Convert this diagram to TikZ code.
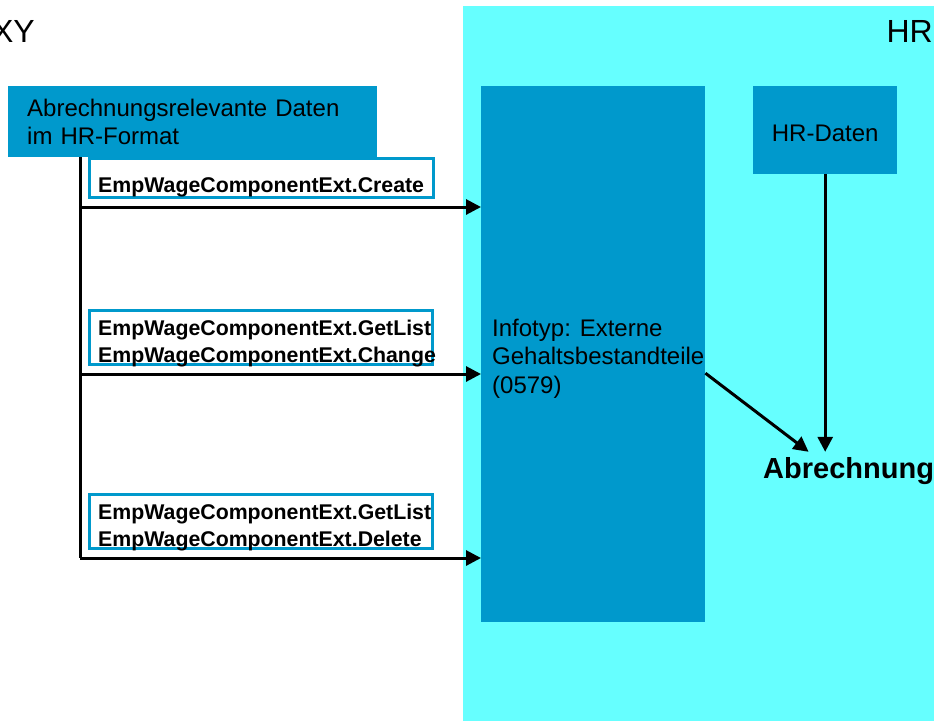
\documentclass[tikz,border=0pt]{standalone}
\usepackage{fontspec}
\setmainfont{Liberation Sans}
\usetikzlibrary{arrows.meta}

\definecolor{hrcyan}{HTML}{66FFFF}
\definecolor{sapblue}{HTML}{0099CC}

\tikzset{
  bluebox/.style={fill=sapblue, inner sep=0pt},
  methbox/.style={draw=sapblue, line width=3pt, fill=white, anchor=north west, inner sep=0pt},
  methtext/.style={font=\fontsize{21.3}{27}\selectfont\bfseries, align=left, anchor=base west, inner sep=0pt},
  normtext/.style={font=\fontsize{24}{28.5}\selectfont, align=left},
  systext/.style={font=\fontsize{32}{38}\selectfont, anchor=base east, inner sep=0pt},
  conn/.style={line width=3pt},
  arr/.style={conn, -{Triangle[length=15pt,width=15pt]}},
}

\begin{document}
\begin{tikzpicture}[x=1pt,y=-1pt]
    \useasboundingbox (0,0) rectangle (934,721);

    % Bereich HR
    \fill[hrcyan] (463,6) rectangle (934,721);
    \node[systext] (xy) at (35,42) {XY};
    \node[systext] (hr) at (933,42) {HR};

    % Quelle
    \node[bluebox, normtext, anchor=north west, text width=331pt, inner xsep=19pt,
          minimum height=71pt] (src) at (8,86) {Abrechnungsrelevante Daten\\im HR-Format};

    % Infotyp und HR-Daten
    \node[bluebox, anchor=north west, minimum width=224pt, minimum height=536pt] (info) at (481,86) {};
    \node[normtext, anchor=base west, inner sep=0pt] (infotxt) at (492,393)
      {Infotyp: Externe\\Gehaltsbestandteile\\(0579)};
    \node[bluebox, normtext, anchor=north west, minimum width=144pt, minimum height=88pt,
          text height=22pt, text depth=0pt] (hrdat) at (753,86) {HR-Daten};
    \node[anchor=base west, font=\fontsize{29}{34}\selectfont\bfseries, inner sep=5pt] (abr) at (758,478) {Abrechnung};

    % Methoden
    \node[methbox, minimum width=344pt, minimum height=39pt] (mcreate) at (88,157) {};
    \node[methtext] (tcreate) at (98,192) {EmpWageComponentExt.Create};
    \node[methbox, minimum width=343pt, minimum height=54pt] (mchange) at (88,309) {};
    \node[methtext] (tchange) at (98,362) {EmpWageComponentExt.GetList\\EmpWageComponentExt.Change};
    \node[methbox, minimum width=343pt, minimum height=54pt] (mdelete) at (88,493) {};
    \node[methtext] (tdelete) at (98,546) {EmpWageComponentExt.GetList\\EmpWageComponentExt.Delete};

    % Verbindungen
    \coordinate (t1) at (80,207);
    \coordinate (t2) at (80,374);
    \coordinate (t3) at (80,558);
    \draw[conn] (src.south -| t1) -- (t3);
    \foreach \t in {t1,t2,t3}
      \draw[arr] (\t) -- (\t -| info.west);
    \draw[arr] (hrdat.south) -- (hrdat.south |- abr.north);
    \draw[arr] ([yshift=-19pt]info.east) -- ([xshift=-40pt]abr.north);
\end{tikzpicture}
\end{document}
